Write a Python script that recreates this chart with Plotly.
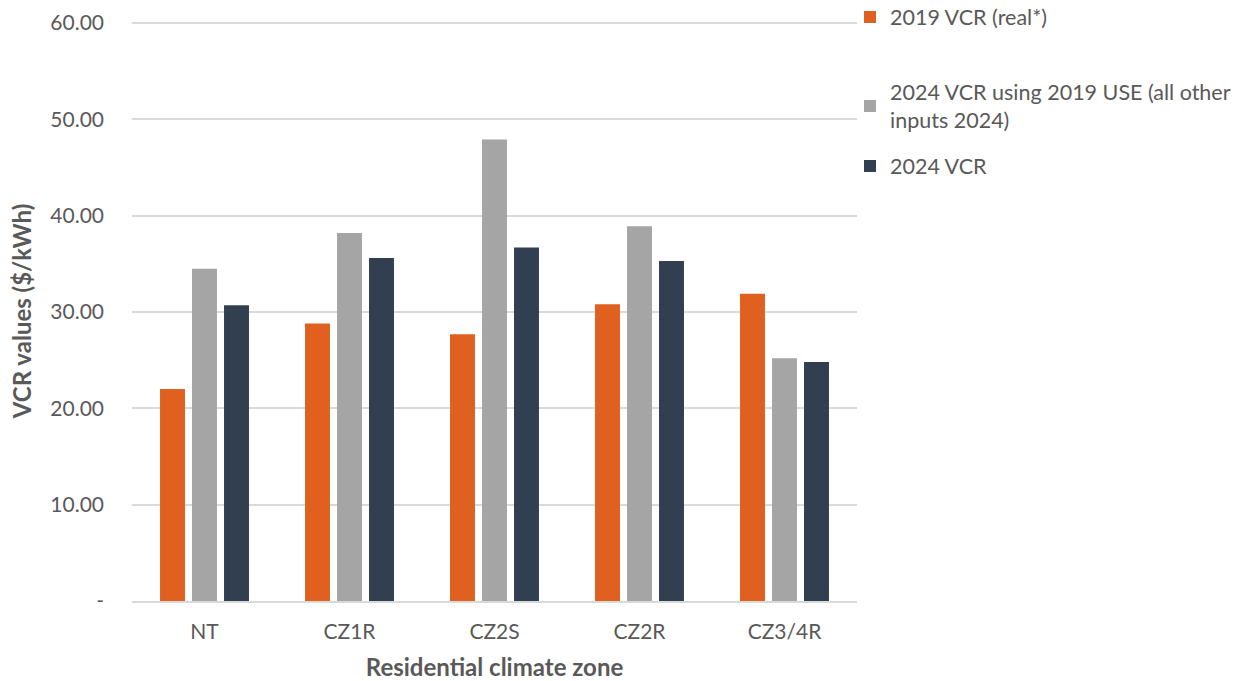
import plotly.graph_objects as go

# Residential climate zones and VCR values ($/kWh)
zones = ["NT", "CZ1R", "CZ2S", "CZ2R", "CZ3/4R"]
vcr_2019_real = [22.0, 28.8, 27.7, 30.8, 31.9]
vcr_2024_2019_use = [34.5, 38.2, 47.9, 38.9, 25.2]
vcr_2024 = [30.7, 35.6, 36.7, 35.3, 24.8]

series_names = [
    "2019 VCR (real*)",
    "2024 VCR using 2019 USE (all other<br>inputs 2024)",
    "2024 VCR",
]
series_colors = ["#E0611F", "#A5A5A5", "#323F50"]

y_tick_vals = [0, 10, 20, 30, 40, 50, 60]
y_tick_text = ["-", "10.00", "20.00", "30.00", "40.00", "50.00", "60.00"]

TEXT = "#595959"
GRID = "#D9D9D9"
FONT = "Lato"

fig = go.Figure()
legends = ["legend", "legend2", "legend3"]
for vals, name, color, lg in zip(
    [vcr_2019_real, vcr_2024_2019_use, vcr_2024], series_names, series_colors, legends
):
    fig.add_trace(go.Bar(x=zones, y=vals, name=name, marker_color=color,
                         marker_line_width=0, legend=lg, showlegend=True))

legend_common = dict(
    xref="container", yref="container", x=850 / 1243, xanchor="left",
    yanchor="middle", bgcolor="rgba(0,0,0,0)",
    font=dict(family=FONT, size=21.5, color=TEXT),
)
fig.update_layout(
    width=1243, height=681,
    margin=dict(l=132, r=386, t=21, b=80, autoexpand=False),
    paper_bgcolor="white", plot_bgcolor="white",
    font=dict(family=FONT, color=TEXT),
    showlegend=True,
    barmode="group", bargap=0.338, bargroupgap=0.22,
    legend=dict(y=1 - 17 / 681, **legend_common),
    legend2=dict(y=1 - 106 / 681, **legend_common),
    legend3=dict(y=1 - 166 / 681, **legend_common),
    xaxis=dict(
        automargin=False,
        showline=True, linecolor=GRID, linewidth=1.5, showgrid=False,
        ticks="", tickfont=dict(family=FONT, size=21, color=TEXT),
        ticklabelstandoff=11,
        title=dict(text="<b>Residential climate zone</b>", standoff=23,
                   font=dict(family=FONT, size=24, color=TEXT)),
    ),
    yaxis=dict(
        automargin=False,
        range=[0, 60.21], tickvals=y_tick_vals, ticktext=y_tick_text,
        showgrid=True, gridcolor=GRID, gridwidth=1.5, zeroline=False,
        showline=False, ticks="", ticklabelstandoff=27,
        tickfont=dict(family=FONT, size=21, color=TEXT),
        title=dict(text="<b>VCR values ($/kWh)</b>", standoff=11,
                   font=dict(family=FONT, size=24, color=TEXT)),
    ),
)

fig.write_html("out.html")
